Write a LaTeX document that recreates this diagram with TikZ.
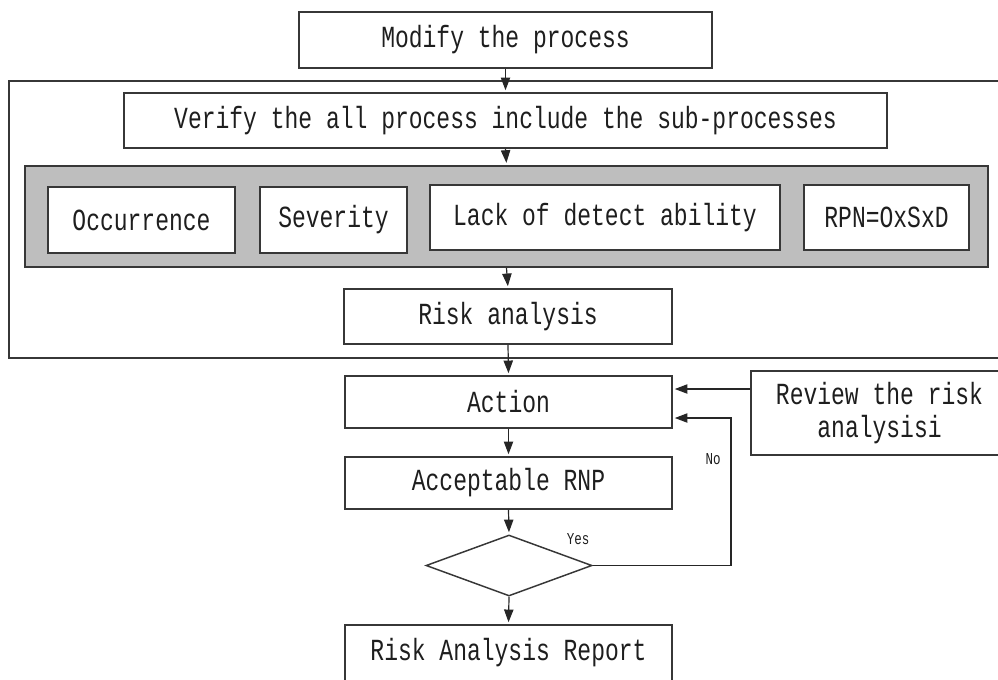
\documentclass[tikz,border=0pt]{standalone}
\usepackage{fontspec}
\newfontfamily\diagfont[FakeStretch=0.75]{Liberation Mono}
\usetikzlibrary{arrows.meta,shapes.geometric}
\definecolor{linec}{RGB}{55,55,55}
\definecolor{grayfill}{RGB}{190,190,190}
\definecolor{textc}{RGB}{30,30,30}
\begin{document}
\begin{tikzpicture}[x=0.75pt,y=-0.75pt,
  sz/.style 2 args={minimum width=#1*0.75pt, minimum height=#2*0.75pt},
  box/.style={draw=linec, line width=1.2pt, fill=white, inner sep=0pt, text=textc,
    font=\diagfont\fontsize{23}{24.75}\selectfont},
  frame/.style={draw=linec, line width=1.2pt, inner sep=0pt},
  graybox/.style={draw=linec, line width=1.7pt, fill=grayfill, inner sep=0pt},
  decision/.style={diamond, draw=linec, line width=1.1pt, fill=white, inner sep=0pt,
    minimum width=124.5pt, minimum height=45.75pt},
  arr/.style={draw=black!85, line width=0.9pt, -{Triangle[length=9.5pt,width=7pt]}, shorten >=1.5pt},
  small/.style={font=\diagfont\fontsize{12.5}{13}\selectfont, text=textc, inner sep=0pt}]
\useasboundingbox (0,0) rectangle (998,679);
\clip (0,0) rectangle (998,679);
% outer frame
\node[frame, sz={1001}{277}] (outer) at (509.5,219.5) {};
% boxes
\node[box, sz={413}{56}] (mod) at (505.5,40) {Modify the process};
\node[box, sz={763}{55}] (ver) at (505.5,120.5) {Verify the all process include the sub-processes};
\node[graybox, sz={963}{101}] (gray) at (506.5,216.5) {};
\node[box, sz={187}{66}] (occ) at (141.5,220) {Occurrence};
\node[box, sz={147}{66}] (sev) at (333.5,220) {Severity};
\node[box, sz={350}{65}] (lack) at (605,217.5) {Lack of detect ability};
\node[box, sz={165}{65}] (rpn) at (886.5,217.5) {RPN=OxSxD};
\node[box, sz={328}{55}] (risk) at (508,316.5) {Risk analysis};
\node[box, sz={327}{52}] (act) at (508.5,402) {Action};
\node[box, sz={257}{84}, align=center] (rev) at (879.5,413) {Review the risk\\analysisi};
\node[box, sz={327}{52}] (acc) at (508.5,483) {Acceptable RNP};
\node[decision] (dia) at (509,565.5) {};
\node[box, sz={327}{75}] (rep) at (508.5,662.5) {};
\node[font=\diagfont\fontsize{23}{24.75}\selectfont, text=textc, inner sep=0pt] (reptext) at (508.5,653) {Risk Analysis Report};
\coordinate (loopx) at (731,0);
% labels
\node[small] (yes) at (578,539) {Yes};
\node[small] (no) at (713,459) {No};
% connectors
\draw[arr] (mod.south) -- (ver.north);
\draw[arr] (ver.south) -- (gray.north);
\draw[arr] (gray.south) -- (risk.north);
\draw[arr] (risk.south) -- (act.north);
\draw[arr] (act.south) -- (acc.north);
\draw[arr] (acc.south) -- (dia.north);
\draw[arr] (dia.south) -- (rep.north);
\draw[arr] ([yshift=18pt]rev.west) -- ([yshift=18pt]rev.west -| act.east);
\draw[arr] (dia.east) -- (dia.east -| loopx) |- ([yshift=-12pt]act.east);
\end{tikzpicture}
\end{document}
